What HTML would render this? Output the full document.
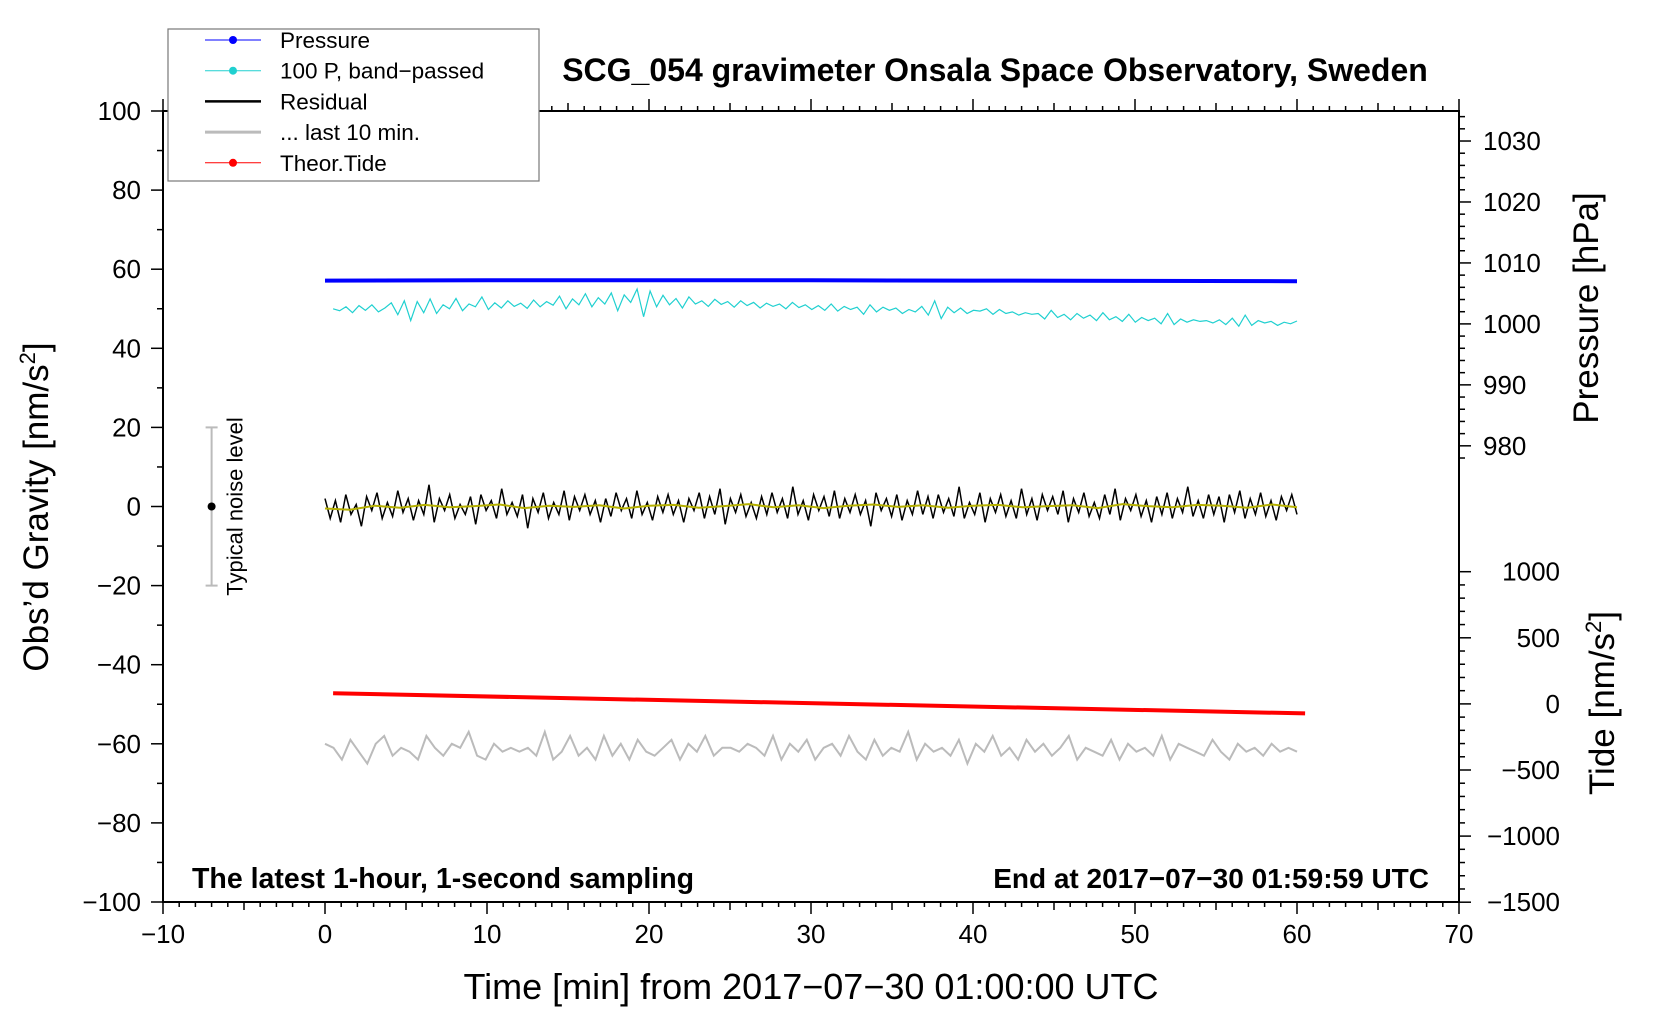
<!DOCTYPE html>
<html><head><meta charset="utf-8"><style>
html,body{margin:0;padding:0;background:#fff}
svg{display:block;font-family:"Liberation Sans",sans-serif}
</style></head><body>
<svg id="chart" width="1660" height="1020" viewBox="0 0 1660 1020" xmlns="http://www.w3.org/2000/svg"></svg>
<script>
const xTicks=[-10,0,10,20,30,40,50,60,70];
const yTicks=[100,80,60,40,20,0,-20,-40,-60,-80,-100];
const pTicks=[1030,1020,1010,1000,990,980];
const tTicks=[1000,500,0,-500,-1000,-1500];
const pressureTime=[0,10,20,30,40,50,60];
const pressureVals=[1007.1,1007.15,1007.15,1007.15,1007.1,1007.05,1007.0];
const cyanVals=[50,49.5,50.5,49,50.8,49.6,51,49.2,50.2,51.5,48.5,52,47,51.8,49,52.5,48.8,51,50,52.6,49.5,51.2,50.5,53,49.8,51.5,50.2,52,50.6,51.4,50.1,52.2,50.5,51.8,50.9,53.2,50,52.5,51,53.8,50.5,52.8,51.2,54,49.5,53.5,51.6,55,48,54.5,50.5,53.4,51,52.6,50.2,53,51.2,52,50.6,52.4,51.1,51.8,50.4,52,50.8,51.6,50.2,51.4,50.6,51.2,50,51.6,50.3,51,49.8,50.8,49.6,51.2,49.4,50.6,49.8,50.4,48.6,51,49.2,50.4,49.6,50.2,48.8,49.8,49.2,50.6,48.4,52,47.5,50.4,49,50.2,48.8,49.6,49.4,50,48.6,49.8,48.8,49.2,48.4,49,48.6,48.8,47.4,49.6,47.8,48.6,47.2,48.8,47.6,48.4,47,49,47.2,48,46.8,48.6,46.6,47.8,47,47.6,46.2,48.8,46,47.4,46.6,47.2,46.8,47,46.4,47.2,46,47.6,45.6,48.4,45.8,47,46.4,46.8,45.8,46.6,46.2,46.9];
const resVals=[2,-3,1.5,-4,3,-2,0.5,-5,2.5,-1,3.5,-3,1,-2.5,4,-1.5,2,-3.5,1.5,-2,5.5,-4,2,-1,3,-3,0.5,-2,2.5,-4.5,3,-1,1.5,-3,4.5,-2,1,-2.5,3,-5.5,2,-1.5,3.5,-3,1,-2,4,-3.5,2.5,-1,3,-2,1.5,-4,2,-2.5,3.5,-1,2,-3,4,-2,1,-3.5,2.5,-1.5,3,-2,1.5,-4,2,-1,3.5,-3,2.5,-2,4.5,-4.5,2,-1.5,3,-2.5,1,-3,2.5,-2,3.5,-1.5,2,-3,5,-2,1.5,-3.5,3,-1,2.5,-2.5,4,-3,2,-1.5,3,-2,1.5,-5,3.5,-1,2,-2.5,3,-3.5,1.5,-2,4,-2,2.5,-3,3,-1.5,2,-2.5,5,-3,1,-2,3.5,-4,2,-1.5,3,-2.5,1.5,-3,4.5,-2,2,-3.5,3,-1,2.5,-2,4,-4,2,-1.5,3.5,-2.5,1,-3,3,-2,4.5,-3.5,2,-1,3,-2.5,1.5,-4,2.5,-2,3.5,-3,2,-1.5,5,-2.5,1.5,-3,3,-2,2.5,-4,3,-1.5,4,-3,2,-2,3.5,-2.5,1.5,-3.5,2.5,-1,3,-2];
const smoothVals=[-0.5,-0.8,0.2,-0.3,0.4,-0.2,0.1,0.5,-0.4,0.2,-0.1,0.3,-0.5,0.2,0.4,-0.3,0.1,0.6,-0.2,0.3,-0.4,0.2,0.5,-0.1,0.3,-0.3,0.2,0.4,-0.2,0.1,0.3,-0.4,0.6,0.1,-0.2,0.4,0.2,-0.3,0.5,-0.2];
const grayVals=[-60,-61,-64,-59,-62,-65,-60,-58,-63,-61,-62,-64,-58,-61,-63,-60,-61,-57,-63,-64,-60,-62,-61,-62,-61,-63,-57,-64,-62,-58,-63,-61,-64,-58,-63,-60,-64,-59,-62,-63,-61,-59,-64,-60,-62,-58,-63,-61,-61,-62,-60,-61,-63,-58,-64,-60,-62,-59,-64,-61,-60,-63,-58,-62,-64,-59,-63,-61,-62,-57,-64,-60,-62,-61,-63,-59,-65,-60,-62,-58,-63,-61,-64,-59,-62,-60,-63,-61,-58,-64,-61,-62,-63,-59,-64,-60,-62,-61,-63,-58,-64,-60,-61,-62,-63,-59,-62,-64,-60,-62,-61,-63,-60,-62,-61,-62];
const tideTime=[0.5,60.5];
const tideVals=[80,-72];

const svg=document.getElementById('chart');
const NS='http://www.w3.org/2000/svg';
const L=163,R=1459,T=111,B=902;
const xs=v=>L+(v+10)/80*(R-L);
const ys=v=>T+(100-v)/200*(B-T);
const ps=v=>323.9-(v-1000)*6.096;
const ts=v=>703.9-v*0.1322;
function el(tag,attrs,text,parent){const e=document.createElementNS(NS,tag);for(const k in attrs)e.setAttribute(k,attrs[k]);if(text!=null)e.textContent=text;(parent||svg).appendChild(e);return e;}

let f=el('rect',{x:L,y:T,width:R-L,height:B-T,fill:'none',stroke:'#000','stroke-width':2});



for(let m=-10;m<=70;m++){
  const x=xs(m),major=m%10===0,half=m%5===0;
  const len=major?12:(half?8:5);
  el('line',{x1:x,y1:B,x2:x,y2:B+len,stroke:'#000','stroke-width':1.5});
  el('line',{x1:x,y1:T,x2:x,y2:T-len,stroke:'#000','stroke-width':1.5});
}
xTicks.forEach(v=>{const t=el('text',{x:xs(v),y:B+41,'font-size':26,'text-anchor':'middle'},String(v).replace('-','\u2212'));

});
for(let v=-100;v<=100;v+=10){const major=v%20===0;el('line',{x1:L,y1:ys(v),x2:L-(major?12:6),y2:ys(v),stroke:'#000','stroke-width':1.5});}
yTicks.forEach(v=>{const t=el('text',{x:L-22,y:ys(v)+9,'font-size':26,'text-anchor':'end'},String(v).replace('-','\u2212'));

});
for(let v=978;v<=1034;v+=2){const major=v%10===0;el('line',{x1:R,y1:ps(v),x2:R+(major?12:6),y2:ps(v),stroke:'#000','stroke-width':1.5});}
pTicks.forEach(v=>{const t=el('text',{x:R+24,y:ps(v)+9,'font-size':26},String(v));

});
for(let v=-1500;v<=1000;v+=100){const major=v%500===0;el('line',{x1:R,y1:ts(v),x2:R+(major?12:6),y2:ts(v),stroke:'#000','stroke-width':1.5});}
tTicks.forEach(v=>{const t=el('text',{x:1560,y:ts(v)+9,'font-size':26,'text-anchor':'end'},String(v).replace('-','\u2212'));

});

let tt=el('text',{x:995,y:81,'font-size':32,'font-weight':'bold','text-anchor':'middle'},'SCG_054 gravimeter Onsala Space Observatory, Sweden');

tt=el('text',{x:811,y:999,'font-size':36,'text-anchor':'middle'},'Time [min] from 2017\u221207\u221230 01:00:00 UTC');

tt=el('text',{x:0,y:0,'font-size':35,'text-anchor':'middle',transform:'translate(48,507) rotate(-90)'});
tt.innerHTML='Obs\u2019d Gravity [nm/s<tspan font-size="22" dy="-13">2</tspan><tspan dy="13">]</tspan>';

tt=el('text',{x:0,y:0,'font-size':35,'text-anchor':'middle',transform:'translate(1598,308) rotate(-90)'},'Pressure [hPa]');

tt=el('text',{x:0,y:0,'font-size':35,'text-anchor':'middle',transform:'translate(1614,703) rotate(-90)'});
tt.innerHTML='Tide [nm/s<tspan font-size="22" dy="-13">2</tspan><tspan dy="13">]</tspan>';

tt=el('text',{x:192,y:888,'font-size':28.5,'font-weight':'bold'},'The latest 1-hour, 1-second sampling');

tt=el('text',{x:1429,y:888,'font-size':28,'font-weight':'bold','text-anchor':'end'},'End at 2017\u221207\u221230 01:59:59 UTC');


const nx=xs(-7);
let g=el('g',{});
el('line',{x1:nx,y1:ys(20),x2:nx,y2:ys(-20),stroke:'#bbb','stroke-width':2},null,g);
el('line',{x1:nx-6,y1:ys(20),x2:nx+6,y2:ys(20),stroke:'#bbb','stroke-width':2},null,g);
el('line',{x1:nx-6,y1:ys(-20),x2:nx+6,y2:ys(-20),stroke:'#bbb','stroke-width':2},null,g);
el('circle',{cx:nx,cy:ys(0),r:4,fill:'#000'},null,g);
el('text',{x:0,y:0,'font-size':22,'text-anchor':'middle',transform:`translate(${xs(-5.1)},${ys(0)}) rotate(-90)`},'Typical noise level',g);

function series(vals,t0,t1,scale,attrs,name){
  const n=vals.length;const pts=vals.map((v,i)=>(xs(t0+(t1-t0)*i/(n-1))).toFixed(1)+','+scale(v).toFixed(1)).join(' ');
  const p=el('polyline',Object.assign({points:pts,fill:'none'},attrs));
  
  
  return p;
}
series(grayVals,0,60,ys,{stroke:'#bbb','stroke-width':2},'last-10-min-line');
series(resVals,0,60,ys,{stroke:'#000','stroke-width':1.5},'residual-line');
series(smoothVals,0,60,ys,{stroke:'#b5b000','stroke-width':2},'residual-smoothed-line');
series(cyanVals,0.5,60,ys,{stroke:'#20d0d0','stroke-width':1.2},'band-passed-pressure-line');
{const pts=pressureVals.map((v,i)=>xs(pressureTime[i]).toFixed(1)+','+ps(v).toFixed(1)).join(' ');
const p=el('polyline',{points:pts,fill:'none',stroke:'#0000ff','stroke-width':4});

}
{const pts=tideVals.map((v,i)=>xs(tideTime[i]).toFixed(1)+','+ts(v).toFixed(1)).join(' ');
const p=el('polyline',{points:pts,fill:'none',stroke:'#ff0000','stroke-width':4});

}

const lg=el('g',{});
el('rect',{x:168,y:29,width:371,height:152,fill:'#fff',stroke:'#777','stroke-width':1.2},null,lg);
const legItems=[['Pressure','#0000ff',1,true],['100 P, band\u2212passed','#20d0d0',1,true],['Residual','#000',2.5,false],['... last 10 min.','#bbb',3,false],['Theor.Tide','#ff0000',1,true]];
legItems.forEach((it,i)=>{const y=40+i*30.7;
  const e=el('g',{},null,lg);
  
  
  el('line',{x1:205,y1:y,x2:261,y2:y,stroke:it[1],'stroke-width':it[2]},null,e);
  if(it[3])el('circle',{cx:233,cy:y,r:4,fill:it[1]},null,e);
  el('text',{x:280,y:y+8,'font-size':22.5},it[0],e);
});
</script>
</body></html>
